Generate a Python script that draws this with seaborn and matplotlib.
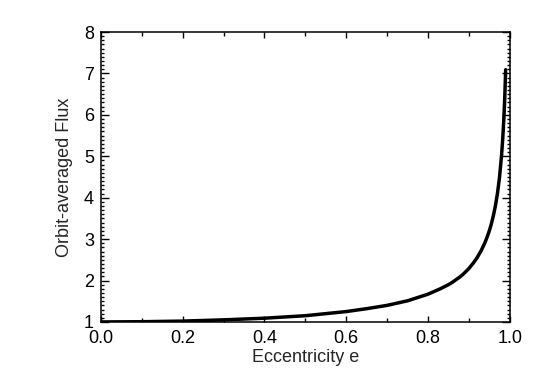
import matplotlib
matplotlib.use("Agg")
import matplotlib.pyplot as plt
from matplotlib.ticker import MultipleLocator
import seaborn as sns
import pandas as pd

# values
eccentricity = [0.0, 0.1, 0.2, 0.3, 0.4, 0.5, 0.55, 0.6, 0.65, 0.7, 0.75, 0.8,
                0.83, 0.85, 0.86, 0.87, 0.88, 0.89, 0.9, 0.91, 0.92, 0.93, 0.94,
                0.945, 0.95, 0.955, 0.96, 0.965, 0.97, 0.975, 0.98, 0.9825,
                0.985, 0.9875, 0.99]
flux = [1.00, 1.005, 1.02, 1.05, 1.09, 1.15, 1.20, 1.25, 1.32, 1.40, 1.51, 1.67,
        1.80, 1.90, 1.96, 2.03, 2.10, 2.19, 2.29, 2.41, 2.55, 2.72, 2.93,
        3.06, 3.20, 3.37, 3.57, 3.81, 4.11, 4.50, 5.03, 5.38,
        5.80, 6.34, 7.09]
x_ticks = [0.0, 0.2, 0.4, 0.6, 0.8, 1.0]
y_ticks = [1, 2, 3, 4, 5, 6, 7, 8]

df = pd.DataFrame({"e": eccentricity, "flux": flux})

sns.set_style("ticks")
plt.rcParams['font.family'] = ['Liberation Sans', 'DejaVu Sans']

fig = plt.figure(figsize=(5.4, 3.86), dpi=100)
ax = fig.add_axes([0.187, 0.166, 0.757, 0.751])
sns.lineplot(data=df, x="e", y="flux", ax=ax, color="black", linewidth=2.5, sort=False)

ax.set_xlim(0.0, 1.0)
ax.set_ylim(1.0, 8.0)
ax.set_xticks(x_ticks)
ax.set_xticklabels([f"{t:.1f}" for t in x_ticks])
ax.set_yticks(y_ticks)
ax.set_yticklabels([str(t) for t in y_ticks])
ax.xaxis.set_minor_locator(MultipleLocator(0.1))
ax.yaxis.set_minor_locator(MultipleLocator(0.1))

ax.tick_params(axis="both", which="both", direction="in", top=True, right=True,
               colors="black", labelsize=13, width=1.0)
ax.tick_params(axis="x", which="major", length=4, pad=6)
ax.tick_params(axis="x", which="minor", length=3)
ax.tick_params(axis="y", which="major", length=5.5, pad=5)
ax.tick_params(axis="y", which="minor", length=2.5)

for s in ax.spines.values():
    s.set_linewidth(1.1)
    s.set_color("black")

ax.set_xlabel("Eccentricity e", fontsize=13, labelpad=1)
ax.set_ylabel("Orbit-averaged Flux", fontsize=13, labelpad=8)

fig.savefig("out.png", dpi=100, facecolor="white")
